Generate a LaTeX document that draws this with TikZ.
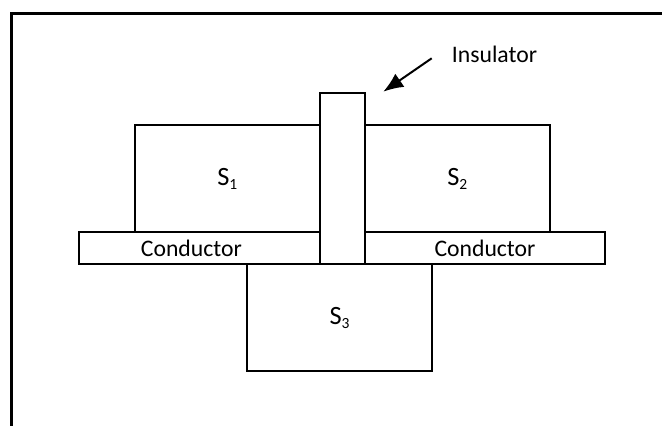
\documentclass[tikz,border=0pt]{standalone}
\usepackage{fontspec}
\setmainfont{Carlito}
\usetikzlibrary{arrows.meta,positioning}

\newcommand{\slabname}[1]{{\fontsize{26.4}{30}\selectfont S\raisebox{-4pt}{\fontsize{15.5}{17}\selectfont #1}}}

\tikzset{
  plate/.style={draw, line width=2pt, anchor=north west, inner sep=0pt},
}

\begin{document}
\begin{tikzpicture}[x=1pt,y=-1pt,font=\fontsize{23.7}{28}\selectfont]
\useasboundingbox (0,0) rectangle (662,426);
% frame, cut off at right and bottom
\draw[line width=2.6pt] (11.3,426) -- (11.3,13.5) -- (662,13.5);
% upper slabs
\node[plate, minimum width=184.5pt, minimum height=107pt] (sone) at (134,124) {\slabname{1}};
\node[plate, minimum width=184.7pt, minimum height=107pt] (stwo) at (364,124) {\slabname{2}};
% conductors
\node[plate, minimum width=240.2pt, minimum height=32pt,
  label={[xshift=-8pt]center:Conductor}] (condl) at (78.3,231) {};
\node[plate, minimum width=240pt, minimum height=32pt] (condr) at (364,231) {Conductor};
% insulator
\node[plate, minimum width=45.5pt, minimum height=171.3pt] (insul) at (318.5,91.7) {};
% lower slab
\node[plate, minimum width=185pt, minimum height=107pt] (sthree) at (246,263) {\slabname{3}};
% label and arrow
\node[anchor=base west, inner sep=0pt] (inslabel) at (451.7,62.7) {Insulator};
\coordinate (tail) at (431.7,58.3);
\coordinate (tip) at (383.3,91.7);
\draw[line width=2pt, -{Latex[length=20pt,width=16pt]}] (tail) -- (tip);
\end{tikzpicture}
\end{document}
